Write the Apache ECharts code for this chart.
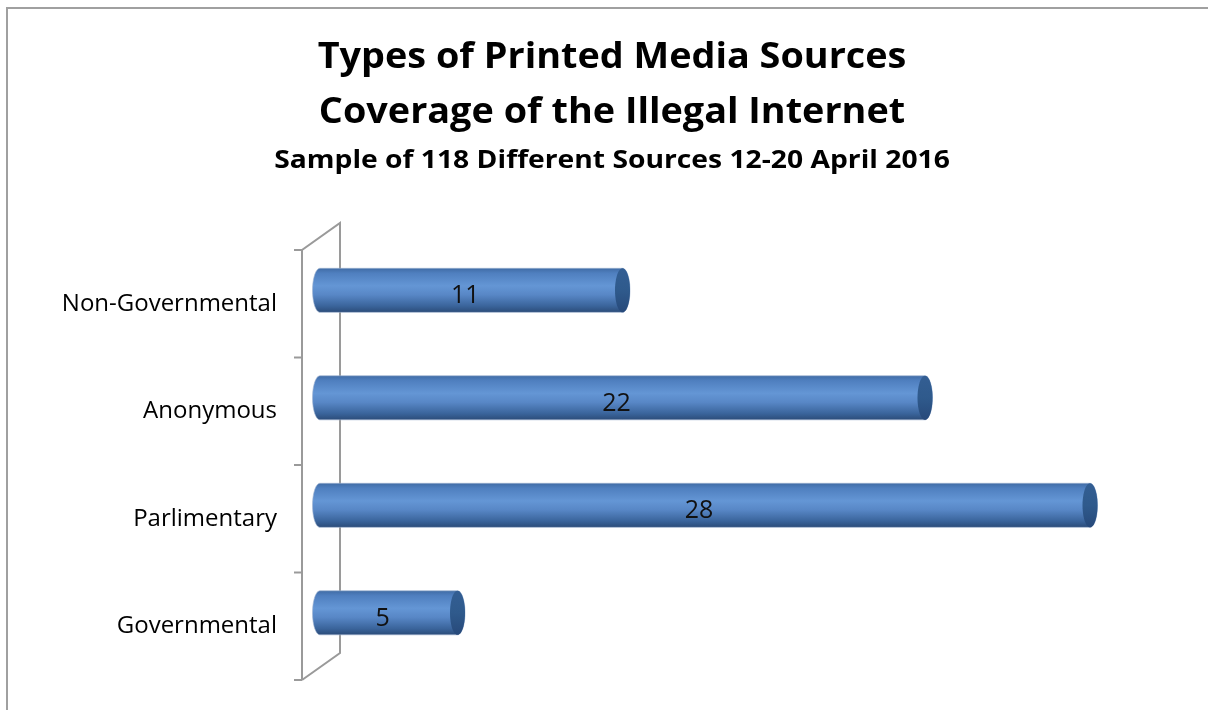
<!DOCTYPE html>
<html>
<head>
<meta charset="utf-8">
<script src="https://cdn.jsdelivr.net/npm/echarts@6/dist/echarts.min.js"></script>
<style>html,body{margin:0;padding:0;background:#fff}#c{width:1208px;height:710px}</style>
</head>
<body>
<div id="c"></div>
<script>
const titleLines = ['Types of Printed Media Sources', 'Coverage of the Illegal Internet'];
const subtitle = 'Sample of 118 Different Sources 12-20 April 2016';
const categories = ['Governmental', 'Parlimentary', 'Anonymous', 'Non-Governmental'];
const values = [5, 28, 22, 11];

const FONT = '"Open Sans"';
const chart = echarts.init(document.getElementById('c'));

function ellipsePts(cx, cy, rx, ry, a0, a1, n) {
  const pts = [];
  for (let i = 0; i <= n; i++) {
    const a = a0 + (a1 - a0) * i / n;
    pts.push([cx + rx * Math.cos(a), cy + ry * Math.sin(a)]);
  }
  return pts;
}

function renderBar(params, api) {
  const cat = api.value(1);
  const v = api.value(0);
  const p0 = api.coord([0, cat]);
  const p1 = api.coord([v, cat]);
  const band = api.size([0, 1])[1];
  const h = band * 0.41;
  const cy = p0[1] - band * 0.125;
  const rx = 7.5, ry = h / 2;
  const xL = p0[0], xR = p1[0];
  const body = []
    .concat(ellipsePts(xL, cy, rx, ry, Math.PI * 0.5, Math.PI * 1.5, 24))
    .concat(ellipsePts(xR, cy, rx, ry, -Math.PI * 0.5, Math.PI * 0.5, 24));
  const cap = ellipsePts(xR, cy, rx, ry, 0, Math.PI * 2, 48);
  return {
    type: 'group',
    children: [
      {
        type: 'polygon', shape: { points: body },
        style: {
          fill: {
            type: 'linear', x: 0, y: 0, x2: 0, y2: 1,
            colorStops: [
              { offset: 0, color: '#3f6aa3' },
              { offset: 0.12, color: '#4f7fbf' },
              { offset: 0.4, color: '#6496d5' },
              { offset: 0.6, color: '#5887c6' },
              { offset: 0.85, color: '#3a649b' },
              { offset: 1, color: '#2a4a76' }
            ]
          },
          stroke: 'rgba(160,180,210,0.6)', lineWidth: 1
        }
      },
      {
        type: 'polygon', shape: { points: cap },
        style: {
          fill: {
            type: 'linear', x: 0, y: 0, x2: 0, y2: 1,
            colorStops: [
              { offset: 0, color: '#335e93' },
              { offset: 0.5, color: '#2f5a8c' },
              { offset: 1, color: '#27497a' }
            ]
          }
        }
      },
      {
        type: 'text',
        style: {
          text: String(v), x: (xL + xR) / 2 - 6, y: cy + 6,
          align: 'center', verticalAlign: 'middle',
          font: '25px ' + FONT, fill: '#111'
        }
      }
    ]
  };
}

function renderWall(params, api) {
  const band = api.size([0, 1])[1];
  const pb = api.coord([0, 0]);
  const pt = api.coord([0, categories.length - 1]);
  const fx = pb[0] - 18;
  const top = pt[1] - band / 2, bot = pb[1] + band / 2;
  const dx = 38, dy = -27;
  const lineStyle = { stroke: '#9a9a9a', lineWidth: 2, fill: null };
  const children = [
    { type: 'polyline', shape: { points: [[fx, bot], [fx, top], [fx + dx, top + dy], [fx + dx, bot + dy], [fx, bot]] }, style: lineStyle }
  ];
  for (let i = 0; i <= categories.length; i++) {
    const y = bot - band * i;
    children.push({ type: 'line', shape: { x1: fx - 8, y1: y, x2: fx, y2: y }, style: lineStyle });
  }
  return { type: 'group', children };
}

chart.setOption({
  animation: false,
  backgroundColor: '#fff',
  graphic: [
    {
      type: 'rect', shape: { x: 7, y: 8, width: 1400, height: 900 },
      style: { fill: null, stroke: '#a0a0a0', lineWidth: 2 }, silent: true
    },
    {
      type: 'text', x: 612, y: 58, scaleX: 1.08, silent: true,
      style: { text: titleLines[0], font: 'bold 35px ' + FONT, fill: '#000', align: 'center', verticalAlign: 'middle' }
    },
    {
      type: 'text', x: 612, y: 113, scaleX: 1.08, silent: true,
      style: { text: titleLines[1], font: 'bold 35px ' + FONT, fill: '#000', align: 'center', verticalAlign: 'middle' }
    },
    {
      type: 'text', x: 612, y: 161, scaleX: 1.13, silent: true,
      style: { text: subtitle, font: 'bold 25px ' + FONT, fill: '#000', align: 'center', verticalAlign: 'middle' }
    }
  ],
  grid: { left: 320, right: 8, top: 250, bottom: 30 },
  xAxis: { type: 'value', min: 0, max: 32, show: false },
  yAxis: {
    type: 'category', data: categories,
    axisLine: { show: false },
    axisTick: { show: false },
    axisLabel: { fontFamily: FONT, fontSize: 24, color: '#000', margin: 43 }
  },
  series: [
    { type: 'custom', z: 1, renderItem: renderWall, data: [[0, 0]] },
    { type: 'custom', z: 2, renderItem: renderBar, data: values.map((v, i) => [v, i]) }
  ]
});
</script>
</body>
</html>
